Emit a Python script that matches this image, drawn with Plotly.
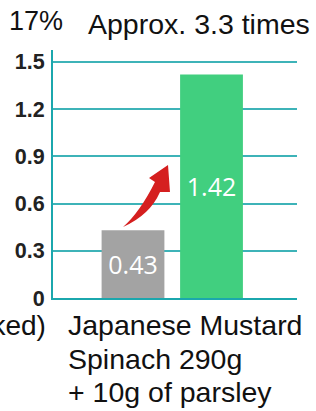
import plotly.graph_objects as go

# ---- data ----
categories = ["Spinach 300g", "Japanese Mustard Spinach 290g + 10g of parsley"]
values = [0.43, 1.42]
bar_colors = ["#a3a3a3", "#41cf7f"]
y_ticks = [0, 0.3, 0.6, 0.9, 1.2, 1.5]
y_tick_labels = ["0", "0.3", "0.6", "0.9", "1.2", "1.5"]
top_left_label = "17%"
ratio_label = "Approx. 3.3 times"
prev_category_label = "Spinach (cooked)"
group_label_lines = ["Japanese Mustard", "Spinach 290g", "+ 10g of parsley"]

W, H = 316, 411
L, R, T, B = 53, 19, 50, 113
pw, ph = W - L - R, H - T - B

def px_x(px):
    return (px - L) / pw

def px_y(py):
    return (H - B - py) / ph

xpos = list(range(len(categories)))

fig = go.Figure()
fig.add_trace(go.Bar(
    x=xpos, y=values, width=0.8,
    marker=dict(color=bar_colors, line=dict(width=0)),
    text=[f"{v:.2f}" for v in values],
    textposition="inside", insidetextanchor="middle",
    textfont=dict(family="Open Sans", size=25, color="white"),
    hovertext=categories, hoverinfo="text+y",
    constraintext="none",
))

teal = "#1ba7ad"
fig.update_layout(
    width=W, height=H,
    margin=dict(l=L, r=R, t=T, b=B),
    paper_bgcolor="white", plot_bgcolor="white",
    showlegend=False,
    bargap=0.2,
    xaxis=dict(range=[-1.019, 2.089], showticklabels=False, showgrid=False,
               zeroline=False, showline=True, linecolor=teal, linewidth=2,
               fixedrange=True),
    yaxis=dict(range=[0, 1.576], tickvals=y_ticks, ticktext=y_tick_labels,
               showgrid=True, gridcolor="#3db3b8", gridwidth=2,
               zeroline=False, showline=True, linecolor=teal, linewidth=2,
               ticks="", ticklabelstandoff=2,
               tickfont=dict(family="Liberation Sans, Arial", size=21.5,
                             color="#222222", weight="bold"),
               fixedrange=True),
)

# curved red arrow (data coords)
arrow_path = ("M -0.127 0.451 Q 0.217 0.527 0.344 0.673 L 0.471 0.673 "
              "L 0.446 0.845 L 0.204 0.762 L 0.280 0.737 Q 0.089 0.546 -0.127 0.451 Z")
fig.add_shape(type="path", path=arrow_path, xref="x", yref="y",
              fillcolor="#d51f1f", line=dict(width=0), layer="above")

font_txt = "Liberation Sans, Arial, sans-serif"
anns = [
    dict(text=top_left_label, x=px_x(7), y=px_y(21), xanchor="left", yanchor="middle", size=27),
    dict(text=ratio_label, x=px_x(86), y=px_y(24), xanchor="left", yanchor="middle", size=28.5),
    dict(text=f"({prev_category_label.split('(')[1]}", x=px_x(48), y=px_y(325),
         xanchor="right", yanchor="middle", size=28),
]
for i, line in enumerate(group_label_lines):
    anns.append(dict(text=line, x=px_x(66), y=px_y(325 + 33.5 * i),
                     xanchor="left", yanchor="middle", size=28.5))

for a in anns:
    fig.add_annotation(text=a["text"], x=a["x"], y=a["y"], xref="paper", yref="paper",
                       xanchor=a["xanchor"], yanchor=a["yanchor"], showarrow=False,
                       align="left", font=dict(family=font_txt, size=a["size"], color="#111111"))

fig.write_html("out.html", config={"displayModeBar": False},
               post_script="document.body.style.margin='0';document.body.style.overflow='hidden';")
